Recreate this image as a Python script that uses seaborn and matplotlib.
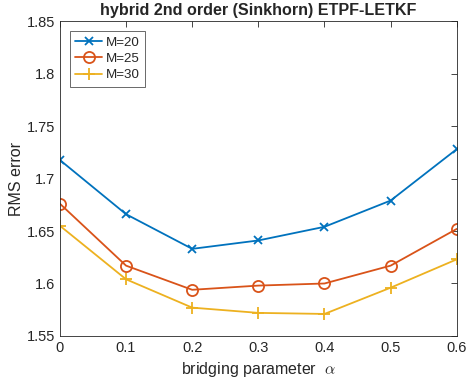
import numpy as np
import pandas as pd
import matplotlib
matplotlib.use('Agg')
import matplotlib.pyplot as plt
import seaborn as sns

# 数据
alpha = [0, 0.1, 0.2, 0.3, 0.4, 0.5, 0.6]
rms_m20 = [1.7176, 1.666, 1.633, 1.641, 1.654, 1.679, 1.728]
rms_m25 = [1.676, 1.617, 1.594, 1.598, 1.600, 1.617, 1.652]
rms_m30 = [1.655, 1.604, 1.577, 1.572, 1.571, 1.596, 1.623]
labels = ['M=20', 'M=25', 'M=30']

df = pd.DataFrame({
    'alpha': alpha * 3,
    'rms': rms_m20 + rms_m25 + rms_m30,
    'M': [labels[0]] * 7 + [labels[1]] * 7 + [labels[2]] * 7,
})

sns.set_style('white')
plt.rcParams['font.family'] = ['Liberation Sans', 'DejaVu Sans']
plt.rcParams['mathtext.fontset'] = 'cm'

fig = plt.figure(figsize=(4.68, 3.79), dpi=100)
ax = fig.add_axes([0.128, 0.1135, 0.848, 0.831])

colors = ['#0072BD', '#D95319', '#EDB120']
markers = ['x', 'o', '+']
sizes = [6, 8, 8]
for lab, c, m, s in zip(labels, colors, markers, sizes):
    sub = df[df['M'] == lab]
    sns.lineplot(data=sub, x='alpha', y='rms', ax=ax, color=c, marker=m,
                 markersize=s, markerfacecolor='none', markeredgecolor=c,
                 markeredgewidth=1.3, linewidth=1.3, label=lab)
# 坐标轴
ax.set_xlim(0, 0.6)
ax.set_ylim(1.55, 1.85)
ax.set_xticks([0, 0.1, 0.2, 0.3, 0.4, 0.5, 0.6])
ax.set_xticklabels(['0', '0.1', '0.2', '0.3', '0.4', '0.5', '0.6'])
ax.set_yticks([1.55, 1.6, 1.65, 1.7, 1.75, 1.8, 1.85])
ax.set_yticklabels(['1.55', '1.6', '1.65', '1.7', '1.75', '1.8', '1.85'])
ax.tick_params(direction='in', length=4, width=0.6, labelsize=10.5,
               top=True, right=True, colors='#262626')
for sp in ax.spines.values():
    sp.set_color('#262626')
    sp.set_linewidth(0.6)
ax.set_xlabel(r'bridging parameter  $\alpha$', fontsize=11.5, color='#262626')
ax.set_ylabel('RMS error', fontsize=11.5, color='#262626')
ax.yaxis.set_label_coords(-0.09, 0.5)
ax.set_title('hybrid 2nd order (Sinkhorn) ETPF-LETKF', fontsize=11.6,
             fontweight='bold', pad=4)

leg = ax.legend(loc='upper left', fontsize=9.6, frameon=True, fancybox=False,
                borderaxespad=0.75, handlelength=2.0, handletextpad=0.3,
                borderpad=0.4, labelspacing=0.3)
leg.get_frame().set_edgecolor('#262626')
leg.get_frame().set_linewidth(0.6)

plt.savefig('out.png', dpi=100)
